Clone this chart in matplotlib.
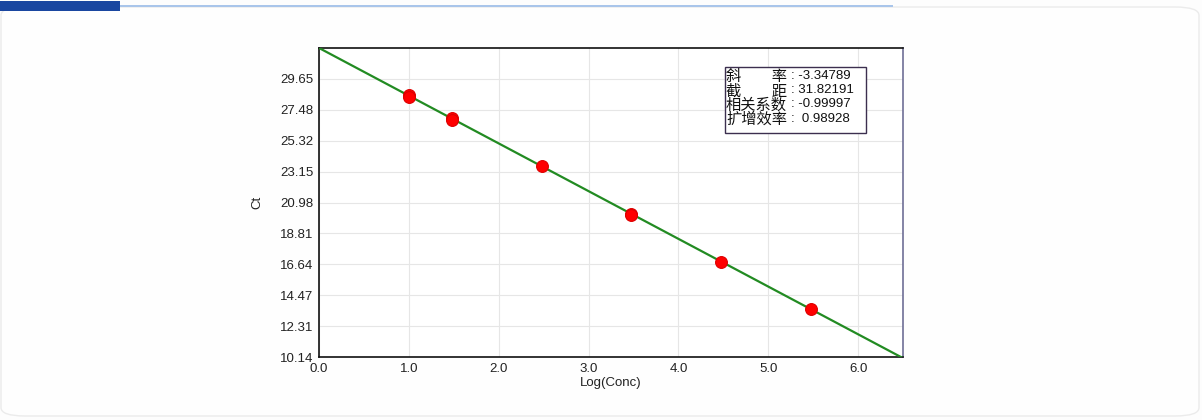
import matplotlib
matplotlib.use("Agg")
import matplotlib.pyplot as plt
from matplotlib.patches import Rectangle, FancyBboxPatch

plt.rcParams['font.family'] = ['Liberation Sans', 'Noto Sans CJK SC', 'DejaVu Sans']

# Data
log_conc = [1.0, 1.0, 1.477, 1.477, 2.477, 3.477, 3.477, 4.477, 5.477]
ct_values = [28.52, 28.40, 26.92, 26.80, 23.52, 20.20, 20.12, 16.82, 13.49]
slope = -3.34789
intercept = 31.82191
x_ticks = [0.0, 1.0, 2.0, 3.0, 4.0, 5.0, 6.0]
y_tick_labels = ["10.14", "12.31", "14.47", "16.64", "18.81", "20.98",
                 "23.15", "25.32", "27.48", "29.65"]
stat_labels = ["斜\u3000\u3000率", "截\u3000\u3000距", "相关系数", "扩增效率"]
stat_values = ["-3.34789", "31.82191", "-0.99997", " 0.98928"]

W, H = 1202, 420
fig = plt.figure(figsize=(W / 100, H / 100), dpi=100)
fig.patch.set_facecolor('#fdfdfd')

def fx(px):
    return px / W

def fy(py):
    return 1 - py / H

# page frame and header bars
fig.patches.append(FancyBboxPatch((fx(1), fy(416)), fx(1198), fy(7) - fy(416),
                                  boxstyle="round,pad=0,rounding_size=0.02",
                                  transform=fig.transFigure, facecolor='#fefefe',
                                  edgecolor='#ebebeb', linewidth=1.0, zorder=-5))
fig.patches.append(Rectangle((fx(120), fy(7)), fx(773), 2 / H, transform=fig.transFigure,
                             facecolor='#a9c5ea', edgecolor='none', zorder=1))
fig.patches.append(Rectangle((fx(0), fy(11)), fx(120), 10 / H, transform=fig.transFigure,
                             facecolor='#1a46a0', edgecolor='none', zorder=2))

ax = fig.add_axes([fx(319), fy(357), fx(903) - fx(319), fy(48) - fy(357)])
ax.set_zorder(3)
ax.set_facecolor('white')
ax.set_xlim(0, 6.5)
ax.set_ylim(10.14, 31.82)

y_ticks = [float(s) for s in y_tick_labels]
ax.set_xticks(x_ticks)
ax.set_xticklabels([f"{v:.1f}" for v in x_ticks])
ax.set_yticks(y_ticks)
ax.set_yticklabels(y_tick_labels)
ax.tick_params(length=0, labelsize=9.5, colors='#222222', pad=4)
ax.grid(True, color='#e6e6e6', linewidth=0.8)
ax.set_axisbelow(True)
for s in ['left', 'bottom', 'top']:
    ax.spines[s].set_color('#111111')
    ax.spines[s].set_linewidth(1.2)
ax.spines['right'].set_color('#6e6e96')
ax.spines['right'].set_linewidth(1.2)

xs = [0.0, 6.5]
ax.plot(xs, [intercept + slope * x for x in xs], color='#228b22', linewidth=1.6, zorder=3)
ax.plot(log_conc, ct_values, linestyle='none', marker='o', markersize=8.5,
        markerfacecolor='#ff0000', markeredgecolor='#dd0000', markeredgewidth=0.8, zorder=4)

ax.set_xlabel("Log(Conc)", fontsize=9.5, labelpad=2, color='#222222')
ax.set_ylabel("Ct", fontsize=9.5, labelpad=12, color='#222222')

# stats box
fig.patches.append(Rectangle((fx(725), fy(133)), fx(866) - fx(725), fy(67) - fy(133),
                             transform=fig.transFigure, facecolor='white',
                             edgecolor='#3c2f4f', linewidth=1.0, zorder=5))
cjk = ['Noto Sans CJK SC', 'DejaVu Sans']
renderer = fig.canvas.get_renderer()
row_step = 14.2  # pixels between rows


def tuned_text(x, y, lines, **kw):
    """Multi-line text whose row pitch is tuned to row_step pixels."""
    probe = fig.text(x, y, lines[0], **kw)
    h1 = probe.get_window_extent(renderer).height
    probe.remove()
    target = h1 + row_step * (len(lines) - 1)
    t = fig.text(x, y, "\n".join(lines), **kw)
    lo, hi = 0.3, 2.0
    for _ in range(40):
        mid = (lo + hi) / 2
        t.set_linespacing(mid)
        hh = t.get_window_extent(renderer).height
        if hh > target:
            hi = mid
        else:
            lo = mid
    t.set_linespacing((lo + hi) / 2)
    return t


tuned_text(fx(726), fy(68), stat_labels, fontsize=11, va='top', ha='left',
           family=cjk, color='#111111', zorder=6)
tuned_text(fx(791), fy(70), [": " + v for v in stat_values], fontsize=9.5,
           va='top', ha='left', color='#111111', zorder=6)

fig.savefig("out.png", dpi=100, facecolor=fig.get_facecolor())
